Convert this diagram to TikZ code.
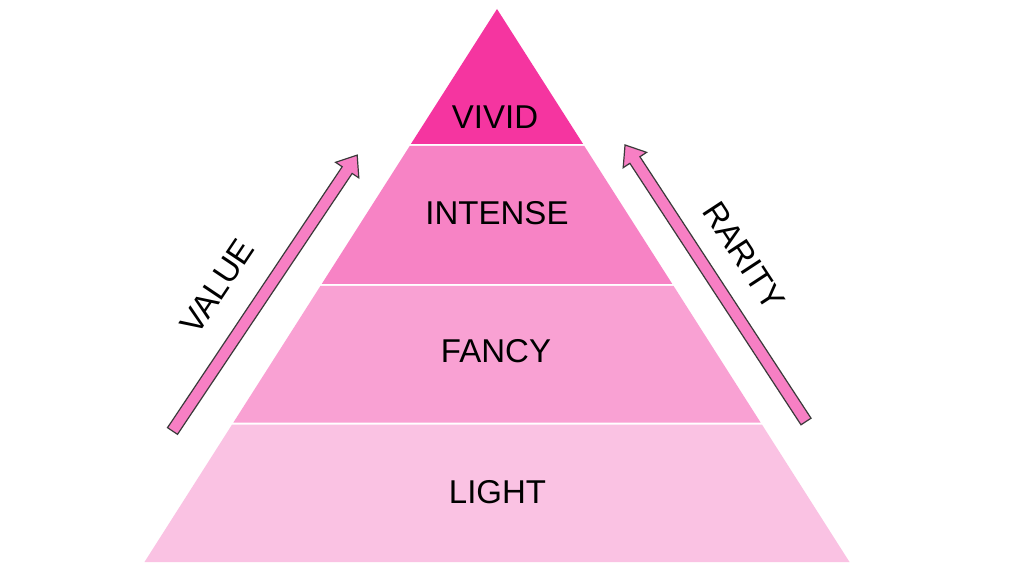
\documentclass[tikz,border=0pt]{standalone}
\usepackage{fontspec}
\setmainfont{Liberation Sans}
\definecolor{cvivid}{HTML}{F535A0}
\definecolor{cintense}{HTML}{F783C5}
\definecolor{cfancy}{HTML}{F9A1D3}
\definecolor{clight}{HTML}{FAC2E3}
\definecolor{carrow}{HTML}{F77FC4}
\definecolor{cedge}{HTML}{3A3A3A}
\begin{document}
\begin{tikzpicture}[x=1pt,y=1pt,
  layer/.style={draw=none},
  lbl/.style={font=\fontsize{33}{40}\selectfont, text=black, inner sep=0pt},
  bigarrow/.style={fill=carrow, draw=cedge, line width=1.2pt, line join=miter}]
\useasboundingbox (0,0) rectangle (1024,576);
\fill[white] (0,0) rectangle (1024,576);
% layers
\fill[layer, cvivid] (497,567) -- (583.1,432) -- (410.9,432) -- cycle;
\fill[layer, cintense] (409.7,430) -- (584.3,430) -- (672.3,292) -- (321.7,292) -- cycle;
\fill[layer, cfancy] (320.4,290) -- (673.6,290) -- (760.6,153.5) -- (233.4,153.5) -- cycle;
\fill[layer, clight] (232.1,151.5) -- (761.9,151.5) -- (849.5,14) -- (144.5,14) -- cycle;
% texts
\node[lbl] (vivid) at (495,458.5) {VIVID};
\node[lbl] (intense) at (497,362.5) {INTENSE};
\node[lbl] (fancy) at (496,224.5) {FANCY};
\node[lbl] (light) at (497.5,84) {LIGHT};
% left arrow
\begin{scope}[shift={(172.5,145)}, rotate=56.2]
  \draw[bigarrow] (0,-6) -- (314,-6) -- (314,-14) -- (332,0) -- (314,14) -- (314,6) -- (0,6) -- cycle;
\end{scope}
% right arrow
\begin{scope}[shift={(806,154.5)}, rotate=123.2]
  \draw[bigarrow] (0,-6) -- (312.5,-6) -- (312.5,-14) -- (330.5,0) -- (312.5,14) -- (312.5,6) -- (0,6) -- cycle;
\end{scope}
\node[lbl, rotate=56.2] (value) at (217.5,289.5) {VALUE};
\node[lbl, rotate=-56.8] (rarity) at (744,320) {RARITY};
\end{tikzpicture}
\end{document}
